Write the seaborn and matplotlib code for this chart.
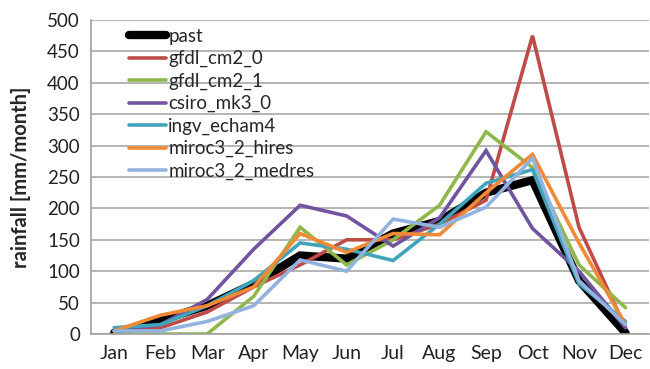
import numpy as np
import pandas as pd
import matplotlib
matplotlib.use("Agg")
import matplotlib.pyplot as plt
import seaborn as sns

months = ["Jan", "Feb", "Mar", "Apr", "May", "Jun", "Jul", "Aug", "Sep", "Oct", "Nov", "Dec"]

past = [2, 22, 45, 80, 125, 120, 160, 180, 225, 245, 85, 2]
gfdl_cm2_0 = [5, 10, 35, 75, 110, 150, 150, 175, 213, 475, 170, 10]
gfdl_cm2_1 = [0, 0, 0, 60, 170, 110, 150, 205, 322, 265, 110, 42]
csiro_mk3_0 = [5, 15, 55, 135, 205, 188, 140, 185, 292, 168, 100, 10]
ingv_echam4 = [10, 15, 45, 85, 145, 135, 117, 175, 240, 262, 80, 20]
miroc3_2_hires = [5, 30, 45, 75, 160, 130, 160, 158, 225, 286, 145, 15]
miroc3_2_medres = [5, 5, 20, 45, 118, 100, 183, 170, 202, 280, 85, 15]

series = {
    "past": past,
    "gfdl_cm2_0": gfdl_cm2_0,
    "gfdl_cm2_1": gfdl_cm2_1,
    "csiro_mk3_0": csiro_mk3_0,
    "ingv_echam4": ingv_echam4,
    "miroc3_2_hires": miroc3_2_hires,
    "miroc3_2_medres": miroc3_2_medres,
}
colores = {
    "past": "#000000",
    "gfdl_cm2_0": "#BE4B48",
    "gfdl_cm2_1": "#8FB84C",
    "csiro_mk3_0": "#7054A0",
    "ingv_echam4": "#3FA4BC",
    "miroc3_2_hires": "#F08A36",
    "miroc3_2_medres": "#93B3DF",
}
anchos = {k: 2.6 for k in series}
anchos["past"] = 6

# tabla larga para seaborn
filas = []
for nombre, valores in series.items():
    for i, v in enumerate(valores):
        filas.append({"mes": i, "modelo": nombre, "lluvia": v})
df = pd.DataFrame(filas)

sns.set_style("white")
plt.rcParams["font.family"] = ["Lato", "DejaVu Sans"]

fig = plt.figure(figsize=(6.5, 3.69), dpi=100)
ax = fig.add_axes([91 / 650, 1 - 334 / 369, 1 - 91 / 650 - 0.002, (334 - 20) / 369])

for nombre in series:
    sns.lineplot(data=df[df["modelo"] == nombre], x="mes", y="lluvia",
                 color=colores[nombre], linewidth=anchos[nombre], label=nombre,
                 ax=ax, solid_capstyle="round", solid_joinstyle="miter")

ax.set_xlim(-0.5, 11.5)
ax.set_ylim(0, 500)
ax.set_yticks(np.arange(0, 501, 50))
ax.set_xticks(range(12))
ax.set_xticklabels(months)
ax.set_xticks(np.arange(-0.5, 12, 1), minor=True)
ax.yaxis.grid(True, color="#A8A8A8", linewidth=1.2)
ax.xaxis.grid(False)
ax.set_axisbelow(True)
ax.tick_params(axis="x", which="major", length=0, labelsize=14, pad=8, colors="#222222")
ax.tick_params(axis="x", which="minor", length=5, width=1, color="#A0A0A0", direction="out")
ax.tick_params(axis="y", length=8, width=1, color="#A0A0A0", direction="inout",
               labelsize=13.5, pad=4, labelcolor="#222222")
for lado in ["top", "right"]:
    ax.spines[lado].set_visible(False)
for lado in ["left", "bottom"]:
    ax.spines[lado].set_color("#A0A0A0")
    ax.spines[lado].set_linewidth(1.2)

ax.set_xlabel("")
ax.set_ylabel("rainfall [mm/month]", fontsize=14.5, fontweight="bold")
ax.yaxis.set_label_coords(-0.108, 0.5)

leg = ax.legend(loc="upper left", bbox_to_anchor=(0.068, 0.975), frameon=False,
                fontsize=13.5, handlelength=2.0, handletextpad=0.1,
                labelspacing=0.28, borderaxespad=0, borderpad=0)

fig.savefig("out.png", dpi=100)
